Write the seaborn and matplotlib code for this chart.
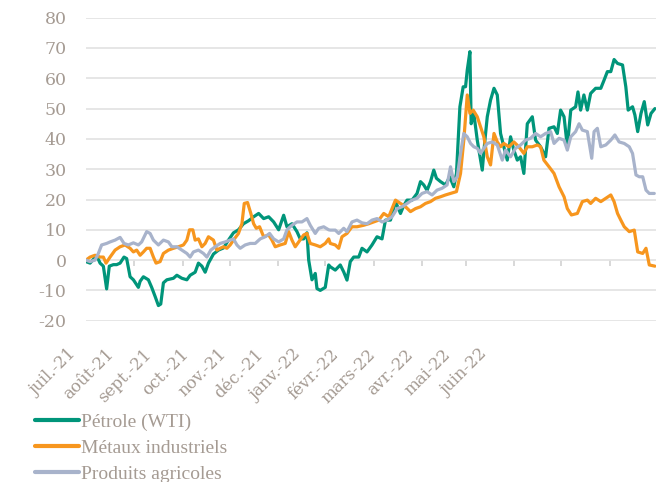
import matplotlib
matplotlib.use("Agg")
import matplotlib.pyplot as plt
import seaborn as sns
import pandas as pd
import numpy as np

# ---------------- data (days since 1 July 2021, % change) ----------------
start = pd.Timestamp("2021-07-01")

oil_days = [0, 2.6, 6.8, 9, 11.1, 13.2, 14.9, 17.5, 19.6, 21.8,
            24.3, 26, 28.2, 30.3, 33.5, 34.6, 36.7, 39.9, 42, 44.2,
            46.3, 47.8, 49.5, 51.7, 55.9, 58.1, 61.3, 64.5, 66.6, 69.8,
            71.9, 74.1, 76.2, 78.3, 81.5, 84.7, 87.9, 91.1, 94.3, 97.5,
            100.7, 104, 107.2, 110.4, 113.6, 116.8, 120, 123.2, 126.4, 128.5,
            131.7, 134.9, 137, 139.2, 141.3, 142.4, 144.5, 146.6, 147.7, 149.8,
            153, 155.2,
            156.2, 159.4, 162.6, 164.8, 166.9, 169, 171.2, 174.4, 176.5, 179.7,
            182.9, 186.1, 189.3, 191.5, 194.7, 197.9, 201.1, 203.2, 205.3, 208.5,
            211.7, 213.9, 216, 218.1, 220.3, 222.4, 224.1, 226.7, 229.9, 232.6,
            235.2, 236.9, 239.1, 241.2, 242.7, 243.8, 245.5, 246.3, 248, 250.2,
            252.3, 253.4, 254.9, 256.6, 258.7, 260.9, 263, 265.1, 267.2, 269.4,
            271.5, 273.6, 275.8, 277.9, 280, 282.2, 285.4, 287.5, 290.7, 293.9,
            296.1, 299.3, 301.4, 303.5, 305.7, 307.8, 310, 313.1, 314.6, 316.3,
            318.4, 320.6, 322.7, 325.9, 329.2, 331.3, 333.4, 335.6, 337.7, 339.9,
            343.1, 345.2, 346.7, 349.5, 351, 352.8, 354.9, 357, 359.2, 361.3,
            363.8]
oil_values = [-0.5, -1, 1.5, -1, -2, -9.5, -2, -1.5, -1.5, -1,
              1, 0.5, -5.5, -6.5, -9, -7, -5.5, -6.5, -9, -12,
              -15, -14.5, -7.5, -6.5, -6, -5, -6, -6.5, -5, -4,
              -1, -2, -4, -1, 2, 3.3, 4, 6.6, 9, 10,
              12, 13, 14.3, 15.4, 13.7, 14.3, 12.6, 10, 14.8, 11,
              12, 9.4, 7, 7, 9, 0, -6.5, -4.4, -9.4, -10,
              -9, -1.6,
              -2.2, -3.3, -1.6, -3.9, -6.6, -0.5, 1, 1, 3.9, 2.7,
              5, 7.7, 7, 13.2, 13.2, 19.3, 15.4, 18, 19.8, 19.8,
              22, 25.9, 24.8, 23, 25.9, 29.7, 27, 25.9, 24.8, 27.5,
              24.2, 28.6, 50.6, 57.2, 57.2, 62.7, 68.8, 45, 48.4, 39.6,
              33, 29.7, 38.5, 47.3, 52.8, 56.7, 54.5, 41.8, 37.4, 33,
              40.7, 36.3, 33, 34.1, 28.6, 45, 47.3, 39.6, 37.4, 34.1,
              43.5, 44, 41.8, 49.5, 47.3, 37.4, 49.5, 50.6, 55.5, 49.5,
              54.5, 49.5, 55, 56.7, 56.7, 59.4, 62.2, 62.2, 66.2, 64.9,
              64.4, 57.2, 49.5, 50.6, 47.9, 42.4, 48.4, 52.3, 44.6, 48.4,
              50]

metals_days = [0, 2.6, 5.8, 9, 11.1, 12.8, 15.4, 18.6, 21.8, 25,
               28.2, 30.3, 32.4, 34.6, 36.7, 38.8, 41, 43.1, 44.8, 47.4,
               49.5, 52.7, 55.9, 59.1, 62.3, 64.5, 66.2, 68.3, 69.8, 71.9,
               74.1, 76.2, 78.3, 81.5, 83.7, 85.8, 87.9, 90.1, 92.2, 94.3,
               97.5, 99.7, 101.2, 103.3, 105.4, 107.2, 108.9, 111, 113.6, 116.8,
               118.9, 121, 124.2, 127.4, 129.6, 131.7, 133.8, 136, 139.2, 141.3,
               143.4, 146.6, 149.8, 153, 155.2,
               156.2, 159.4, 161.6, 163.7, 166.9, 170.1, 173.3, 177.6, 180.8, 184,
               187.2, 190.4, 193.6, 197.9, 201.1, 204.3, 207.5, 210.7, 213.9, 217.1,
               220.3, 223.5, 226.7, 229.9, 233.1, 236.9, 239.5, 241.6, 243.8, 245.5,
               247.6, 250.2, 252.3, 254.4, 256.6, 258.7, 260.9, 263, 265.1, 267.2,
               270.4, 273.6, 276.8, 280, 282.2, 285.4, 288.6, 290.7, 292.8, 296.1,
               299.3, 302.5, 305.7, 307.8, 310.4, 314.2, 317.4, 320.6, 322.7, 325.9,
               329.2, 332.4, 335.6, 337.7, 339.9, 342, 344.2, 347.4, 350.6, 352.8,
               356, 358.1, 360.2, 363.8]
metals_values = [0, 1, 1.6, 1, 1, -1, 1, 3.3, 4.4, 5,
                 3.9, 2.7, 3.3, 1.6, 2.7, 3.9, 3.9, 1, -1, -0.5,
                 2.2, 3.3, 3.9, 4.4, 5, 6.6, 10, 10, 6.6, 7,
                 4.4, 5.5, 7.7, 6.6, 3.3, 3.9, 4.4, 3.9, 5, 6.6,
                 8.8, 12, 18.7, 19, 15.4, 12, 10.5, 11, 7.7, 8.3,
                 6.6, 4.4, 5, 5.5, 9.4, 6.6, 4.4, 6, 8.3, 8.8,
                 5.5, 5, 4.4, 5.5, 7,
                 5.5, 5, 3.9, 7.7, 8.8, 11, 11, 11.5, 12, 12.6,
                 13.2, 15.4, 14.3, 19.8, 18.7, 17.6, 16, 17, 17.6, 18.7,
                 19.3, 20.4, 20.9, 21.5, 22, 22.6, 28.6, 39.6, 54.5, 48.4,
                 49.5, 47.3, 44, 40.7, 34.1, 31.4, 41.8, 39, 37.4, 38.5,
                 37.4, 39, 37.4, 35.2, 37.4, 37.4, 38, 37.4, 33, 30.8,
                 28.6, 24.2, 20.9, 17, 14.9, 15.4, 19.3, 19.8, 18.7, 20.4,
                 19.3, 20.4, 21.5, 19.3, 15.4, 13.2, 11, 9.4, 9.9, 2.7,
                 2.2, 3.9, -1.6, -2]

agri_days = [0, 2.6, 5.8, 7.9, 10, 13.2, 15.4, 18.6, 21.8, 24.3,
             27.1, 30.3, 33.5, 35.6, 38.8, 41, 43.1, 46.3, 49.5, 52.7,
             54.9, 58.1, 61.3, 64.5, 66.6, 68.7, 71.9, 75.1, 77.3, 79.8,
             82.6, 85.8, 89, 92.2, 94.3, 96.5, 98.6, 101.8, 105, 108.2,
             111.4, 114.6, 117.4, 120, 123.2, 126.4, 128.5, 131.7, 134.9, 138.1,
             141.3, 143.4, 146.6, 148.8, 152, 155.2,
             156.2, 159.4, 161.6, 164.8, 166.9, 170.1, 173.3, 176.5, 179.7, 182.9,
             186.1, 189.3, 192.5, 195.7, 199, 202.1, 205.3, 208.5, 211.7, 214.9,
             218.1, 221.3, 224.5, 227.7, 230.9, 233.1, 235.2, 237.4, 239.5, 241.6,
             243.8, 245.9, 248, 250.2, 252.3, 254.4, 256.6, 259.8, 263, 266.2,
             268.3, 271.5, 274.7, 277.9, 281.1, 284.3, 287.5, 290.7, 293.9, 297.1,
             299.3, 302.5, 305.7, 307.8, 310, 313.1, 315.3, 317.4, 320.6, 323.4,
             324.9, 327, 329.2, 332.4, 335.6, 338.2, 340.9, 344.2, 347.4, 349.5,
             351.7, 353.8, 356, 358.1, 360.2, 363.4]
agri_values = [0, -0.5, 0, 2.2, 5, 5.5, 6, 6.6, 7.5, 5.5,
               5, 5.7, 5, 6, 9.4, 8.8, 6.6, 5, 6.6, 6,
               4.4, 4.4, 3.3, 2.2, 1, 2.7, 3.3, 2.2, 1, 3.3,
               4.4, 5.5, 6, 6.6, 7, 5, 3.9, 5, 5.5, 5.5,
               7, 7.7, 8.8, 7, 6, 7, 10, 11.5, 12.6, 12.6,
               13.7, 11.5, 8.8, 10.5, 11, 10,
               9.9, 9.9, 8.8, 10.5, 9.4, 12.6, 13.2, 12.3, 12, 13.2,
               13.7, 12.6, 13.2, 14.3, 17, 17.6, 18.7, 19.8, 20.4, 22,
               22.6, 21.5, 23.1, 23.7, 24.8, 30.8, 25.9, 27.5, 35.2, 41.8,
               40.7, 38.5, 37.4, 36.9, 35.2, 36.9, 38.5, 39, 38, 33,
               36.3, 34.1, 36.9, 38, 39.6, 40.2, 41.8, 40.7, 41.8, 42.4,
               38.5, 40.2, 39.6, 36.3, 40.7, 42.4, 45, 42.9, 42.4, 33.6,
               42.4, 43.5, 37.4, 38, 39.6, 41.3, 39, 38.5, 37.4, 35.2,
               28.1, 27.5, 27.5, 23.1, 22, 22]

series_names = ["Pétrole (WTI)", "Métaux industriels", "Produits agricoles"]
series_colors = ["#00957a", "#f7961e", "#a8b3cb"]
month_labels = ["juil.-21", "août-21", "sept.-21", "oct.-21", "nov.-21", "déc.-21",
                "janv.-22", "févr.-22", "mars-22", "avr.-22", "mai-22", "juin-22"]
y_ticks = [-20, -10, 0, 10, 20, 30, 40, 50, 60, 70, 80]

# ---------------- build long table ----------------
frames = []
for name, d, v in zip(series_names,
                      [oil_days, metals_days, agri_days],
                      [oil_values, metals_values, agri_values]):
    frames.append(pd.DataFrame({
        "date": start + pd.to_timedelta(np.asarray(d, dtype=float), unit="D"),
        "value": v,
        "serie": name,
    }))
df = pd.concat(frames, ignore_index=True)

# ---------------- style ----------------
sns.set_theme(style="white")
plt.rcParams["font.family"] = ["DejaVu Serif", "DejaVu Sans"]
plt.rcParams["axes.unicode_minus"] = False
text_color = "#a59b93"
grid_color = "#e4e4e4"

fig = plt.figure(figsize=(6.62, 4.82), dpi=100)
ax_bottom = 1 - 320.7 / 482
ax = fig.add_axes([86 / 662, ax_bottom, 570 / 662, (320.7 - 17.7) / 482])

sns.lineplot(data=df, x="date", y="value", hue="serie", hue_order=series_names,
             palette=dict(zip(series_names, series_colors)), estimator=None,
             linewidth=2.3, ax=ax, legend=True)

ax.set_ylim(-20, 80)
ax.set_yticks(y_ticks)
ax.set_yticklabels([str(t) for t in y_ticks])
ax.yaxis.grid(True, color=grid_color, linewidth=1.3)
ax.xaxis.grid(False)
ax.set_axisbelow(True)
for s in ax.spines.values():
    s.set_visible(False)
ax.tick_params(axis="y", length=0, pad=14, labelsize=12.5, labelcolor=text_color)

# month tick marks on the zero line (bottom spine moved to y = 0, kept invisible)
month_starts = pd.date_range("2021-08-01", "2022-06-01", freq="MS")
ax.spines["bottom"].set_position(("data", 0))
ax.set_xticks(month_starts)
ax.tick_params(axis="x", bottom=True, top=False, length=4.5, width=1.2,
               color="#d2d2d2", direction="out", labelbottom=False)
ax.set_xlim(start, start + pd.Timedelta(days=364.5))
ax.set_xlabel("")
ax.set_ylabel("")

# month labels (evenly spaced category axis below the plot)
lab_ax = fig.add_axes([68 / 662, ax_bottom, 570 / 662, 0.001])
lab_ax.patch.set_visible(False)
lab_ax.set_yticks([])
lab_ax.set_xticks(range(len(month_labels)))
lab_ax.set_xticklabels(month_labels, rotation=45, ha="right", rotation_mode="anchor",
                       fontsize=12, color=text_color)
lab_ax.set_xlim(0, 15.24)
lab_ax.tick_params(axis="x", length=0, pad=18)
for s in lab_ax.spines.values():
    s.set_visible(False)

# legend
handles, labels = ax.get_legend_handles_labels()
if ax.legend_ is not None:
    ax.legend_.remove()
for h in handles:
    h.set_linewidth(3)
leg = fig.legend(handles, labels, loc="upper left",
                 bbox_to_anchor=(35 / 662, 1 - 413 / 482),
                 frameon=False, handlelength=2.24, handletextpad=0.12,
                 labelspacing=0.43, borderpad=0, borderaxespad=0,
                 prop={"family": "Liberation Serif", "size": 14})
for t in leg.get_texts():
    t.set_color(text_color)

fig.savefig("out.png", dpi=100)
